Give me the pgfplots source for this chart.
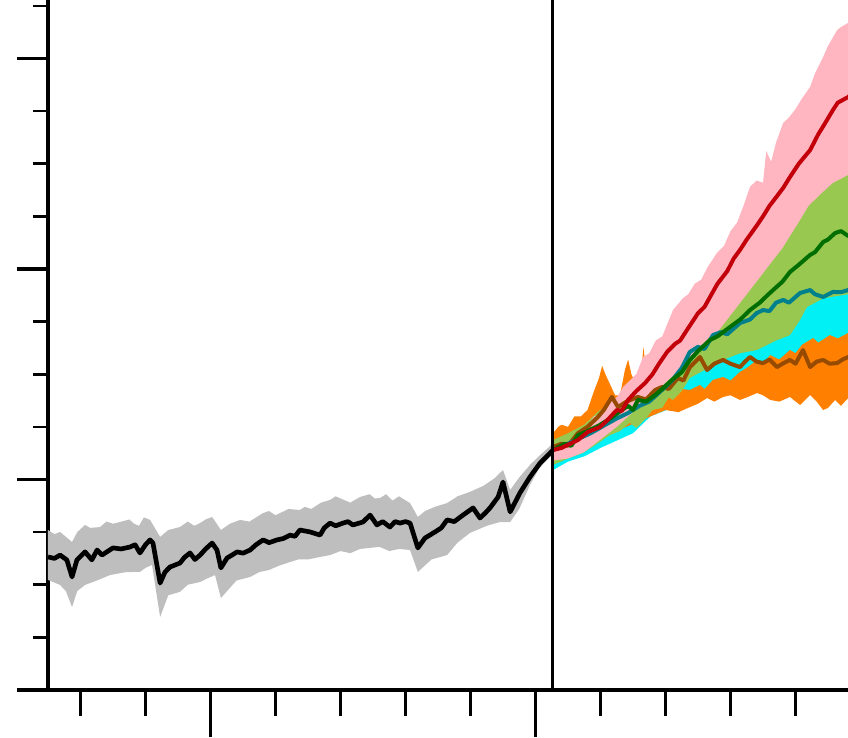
\documentclass[border=0pt]{standalone}
\usepackage{pgfplots}
\pgfplotsset{compat=1.18}
\definecolor{bandgrey}{RGB}{190,190,190}
\definecolor{bandpink}{RGB}{255,182,193}
\definecolor{linered}{RGB}{195,0,10}
\definecolor{bandgreen}{RGB}{152,200,80}
\definecolor{linegreen}{RGB}{0,110,0}
\definecolor{bandcyan}{RGB}{0,240,245}
\definecolor{lineteal}{RGB}{0,128,140}
\definecolor{bandorange}{RGB}{255,128,0}
\definecolor{linebrown}{RGB}{150,75,0}
\pgfplotsset{
  common/.style={
    at={(0pt,0pt)}, anchor=south west,
    scale only axis, width=249.3pt, height=207pt,
    xmin=-9.538, xmax=246.154, ymin=0, ymax=3.278,
    axis lines=middle,
    axis line style={line width=1.1pt, -},
    tick align=outside,
    xticklabels={}, yticklabels={},
    major tick style={line width=1.1pt, black},
    minor tick style={line width=0.8pt, black},
    x filter/.expression={x-1850},
  }
}
\begin{document}
\begin{tikzpicture}
\useasboundingbox (-5.1pt,-14.4pt) rectangle (249.3pt,207pt);
\begin{axis}[common,
  xtick=\empty,
  ytick={1,2,3},
  minor ytick={0.25,0.5,0.75,1.25,1.5,1.75,2.25,2.5,2.75,3.25},
  major tick length=9.3pt, minor tick length=4.5pt]
% historical band
\addplot[draw=none, fill=bandgrey] coordinates {
(1850,0.760) (1852,0.74) (1853.7,0.751) (1857.4,0.703) (1859,0.75) (1861.4,0.784) (1863,0.77) (1866.0,0.774) (1868,0.80) (1870,0.79)
(1872.2,0.798) (1875,0.81) (1876.5,0.79) (1878,0.78) (1879.5,0.82) (1881.4,0.808) (1884.5,0.727) (1887,0.76) (1890.6,0.774)
(1893,0.80) (1895,0.78) (1896.8,0.793) (1898.5,0.81) (1900.5,0.822) (1903.2,0.760) (1906,0.79) (1909.1,0.808) (1912,0.80) (1916.2,0.841)
(1918,0.85) (1920,0.83) (1924,0.86) (1927.5,0.855) (1929,0.87) (1931,0.86) (1934,0.89) (1936.8,0.903)
(1938.5,0.92) (1940,0.91) (1943,0.89) (1946.0,0.917) (1949,0.93) (1950.5,0.91) (1952.2,0.912) (1954,0.93) (1956,0.90)
(1958,0.92) (1961.4,0.888) (1963.8,0.822) (1966,0.85) (1969,0.87) (1972.8,0.888) (1976,0.92) (1979.8,0.941) (1984,0.97) (1987.5,1.007)
(1990.0,1.045) (1992.2,0.950) (1995,1.01) (1998.3,1.069) (2001,1.11) (2004.5,1.159) (2005.4,1.173)
(2005.4,1.116) (2004.5,1.107) (2001,1.05) (1998.3,0.974) (1995,0.86) (1992.2,0.798) (1989.1,0.798) (1985,0.78) (1979.8,0.746) (1976,0.70)
(1972.8,0.641) (1968,0.62) (1963.8,0.561) (1961.4,0.665) (1958,0.67) (1955,0.66) (1952,0.68) (1949.1,0.675) (1946,0.67) (1943,0.65)
(1940,0.66) (1936.8,0.641) (1933,0.63) (1930,0.62) (1927,0.62) (1924.5,0.608) (1921,0.59) (1918,0.57) (1915,0.56) (1912.2,0.537) (1908,0.52) (1903.2,0.437)
(1901.4,0.546) (1899,0.53) (1896.8,0.513) (1893,0.50) (1890.6,0.466) (1887,0.45) (1884.5,0.347) (1882.0,0.594) (1880,0.58) (1878.3,0.561)
(1874,0.56) (1869.1,0.546) (1865,0.52) (1861.4,0.499) (1859,0.47) (1857.4,0.394) (1855.5,0.47) (1853.7,0.499) (1850,0.523)
};
% historical mean
\addplot[black, line width=1.4pt, line join=round] coordinates {
(1850,0.632) (1852,0.625) (1853.7,0.641) (1855.8,0.618) (1857.4,0.537) (1858.9,0.618) (1861.4,0.656)
(1863.5,0.618) (1865.1,0.665) (1866.6,0.641) (1868.5,0.66) (1870.0,0.675) (1872.5,0.67) (1875.2,0.679) (1876.8,0.69) (1878.3,0.651)
(1880,0.69) (1881.4,0.713) (1882.3,0.698) (1884.5,0.508) (1886,0.56) (1887.5,0.584) (1890.6,0.603) (1892,0.63) (1893.7,0.651)
(1895.2,0.62) (1896.8,0.641) (1898.5,0.67) (1900.5,0.698) (1902.0,0.665) (1903.2,0.580) (1905.1,0.627) (1906.5,0.64) (1908.2,0.656)
(1910,0.65) (1912.2,0.665) (1914,0.69) (1916.2,0.713) (1918,0.70) (1920.5,0.713) (1922.5,0.72) (1924.5,0.736) (1926,0.73) (1927.5,0.760) (1930.6,0.751)
(1933.7,0.736) (1935,0.77) (1936.8,0.793) (1938.5,0.78) (1940.8,0.793) (1942.3,0.80) (1943.8,0.784) (1946.9,0.798) (1949.1,0.831)
(1951.2,0.784) (1953,0.80) (1955.2,0.774) (1956.8,0.80) (1958.3,0.793) (1960,0.80) (1961.4,0.793) (1963.8,0.675) (1966.0,0.722)
(1969.1,0.751) (1971,0.77) (1972.8,0.808) (1975,0.80) (1977.7,0.831) (1980.8,0.865) (1982.9,0.817) (1984.5,0.84) (1986.0,0.865)
(1988.5,0.917) (1990.0,0.988) (1992.2,0.846) (1995.2,0.936) (1998.3,1.012) (2001.4,1.078)
(2004.5,1.126) (2005.4,1.140)
};
% cyan band
\addplot[draw=none, fill=bandcyan] coordinates {
(2005.4,1.164) (2019.8,1.259) (2035.4,1.401) (2050.6,1.568) (2060,1.64) (2066,1.686)
(2072,1.73) (2078.3,1.781) (2083.5,1.829) (2090,1.88) (2096.2,1.90) (2100,1.91)
(2100,1.52) (2081.4,1.520) (2066,1.473) (2050.6,1.38) (2042,1.34) (2035.4,1.30) (2030,1.22)
(2020,1.15) (2015,1.11) (2010,1.085) (2005.4,1.045)
};
% orange band
\addplot[draw=none, fill=bandorange] coordinates {
(2005.4,1.22) (2007,1.25) (2008,1.26) (2010,1.25) (2012,1.30) (2014,1.30) (2016,1.33)
(2018,1.42) (2019.5,1.48) (2020.5,1.54) (2021.5,1.50) (2023,1.45) (2024.5,1.40) (2026,1.40)
(2027.5,1.52) (2028.5,1.57) (2029.5,1.50) (2031,1.45) (2032.5,1.50) (2033.2,1.63) (2034,1.52)
(2036,1.46) (2040,1.44) (2047.5,1.425) (2050.6,1.449) (2052,1.43)
(2054.6,1.473) (2057.7,1.487) (2060,1.47) (2062.9,1.511) (2065,1.53) (2068.2,1.568)
(2070,1.55) (2072.2,1.591) (2075,1.57) (2078.3,1.615) (2080,1.60) (2082,1.64)
(2085.4,1.672) (2087,1.65) (2090.6,1.686) (2093,1.67) (2096.2,1.696) (2100,1.70)
(2100,1.39) (2096.2,1.387) (2094,1.35) (2092.2,1.378) (2090,1.34) (2088.5,1.330)
(2086.5,1.37) (2084.5,1.401) (2082.5,1.37) (2081.4,1.354) (2078.3,1.392) (2075,1.37)
(2072.2,1.378) (2070,1.40) (2068.2,1.411) (2065,1.39) (2062.9,1.378) (2060,1.40)
(2057.7,1.392) (2055,1.37) (2052.8,1.387) (2050,1.36) (2047.5,1.344) (2044,1.32) (2040,1.33) (2035.4,1.30)
(2019.8,1.197) (2005.4,1.116)
};
% green band
\addplot[draw=none, fill=bandgreen] coordinates {
(2005.4,1.188) (2010,1.22) (2015,1.26) (2019.8,1.330) (2025,1.36) (2030,1.42)
(2035.4,1.496) (2040,1.55) (2045,1.62) (2050.6,1.710) (2055,1.75) (2058,1.80)
(2062.9,1.853) (2066,1.981) (2069,2.02) (2071,2.09) (2073.1,2.124) (2075,2.18)
(2077.4,2.280) (2079,2.29) (2081.4,2.328) (2084,2.34) (2086,2.37) (2088.5,2.375)
(2090,2.40) (2092.8,2.423) (2094,2.43) (2096.2,2.461) (2100,2.50)
(2100,1.89) (2096.2,1.88) (2092,1.87) (2088.5,1.86) (2083.5,1.819) (2081.4,1.758)
(2078.3,1.686) (2074,1.66) (2068.2,1.615) (2063,1.60) (2057.7,1.568) (2052,1.52)
(2047.5,1.482) (2045,1.42) (2042.3,1.378) (2041,1.39) (2039,1.34) (2036,1.33)
(2034,1.29) (2031,1.245) (2029,1.27) (2026,1.23) (2022.9,1.211) (2018,1.16)
(2014.6,1.126) (2010,1.10) (2005.4,1.069)
};
% pink band
\addplot[draw=none, fill=bandpink] coordinates {
(2005.4,1.164) (2007,1.17) (2009.7,1.154) (2012,1.20) (2014,1.22) (2015.8,1.249)
(2018,1.30) (2020,1.31) (2022,1.36) (2025.1,1.392) (2027,1.44) (2029,1.47)
(2031,1.50) (2033.1,1.582) (2035,1.60) (2037,1.66) (2039,1.68) (2042.3,1.805)
(2045.4,1.862) (2047,1.88) (2049,1.93) (2051,1.95) (2053,2.01) (2055.8,2.076)
(2058,2.11) (2060,2.18) (2062,2.22) (2064,2.30) (2066,2.39) (2068,2.42)
(2070,2.41) (2071,2.56) (2072.5,2.51) (2074,2.60) (2076.2,2.694) (2078,2.72)
(2080,2.76) (2082,2.81) (2084.5,2.865) (2086,2.93) (2088.5,3.007) (2090,3.06)
(2092.8,3.135) (2094,3.15) (2096.2,3.169) (2100,3.25)
(2100,2.50) (2096.2,2.447) (2091.5,2.409) (2088,2.36) (2084,2.30) (2081.4,2.233)
(2076,2.10) (2072,2.02) (2066,1.900) (2060,1.78) (2055,1.68) (2050,1.60)
(2045,1.53) (2040,1.46) (2035,1.39) (2030,1.32) (2025,1.25) (2020,1.19)
(2015,1.13) (2010,1.10) (2005.4,1.09)
};
% brown line
\addplot[linebrown, line width=1.2pt, line join=round] coordinates {
(2005.4,1.154) (2008,1.17) (2010,1.16) (2013.1,1.221) (2016,1.25) (2019.2,1.297)
(2021,1.33) (2023.5,1.392) (2025.4,1.344) (2028,1.37) (2031.5,1.392) (2034,1.38)
(2036.8,1.425) (2039,1.44) (2041,1.43) (2043.8,1.482) (2045.5,1.47) (2047.5,1.534)
(2050.6,1.582) (2052.8,1.520) (2055,1.55) (2057.7,1.568) (2060,1.55) (2062.9,1.534)
(2064.5,1.56) (2066.0,1.582) (2068,1.56) (2070.0,1.553) (2072,1.57) (2074.3,1.534)
(2076,1.55) (2078.3,1.568) (2080,1.55) (2082.3,1.615) (2084.5,1.534) (2086.5,1.56)
(2088.5,1.568) (2090.5,1.55) (2092.8,1.553) (2094.5,1.57) (2096.2,1.582) (2100,1.57)
};
% teal line
\addplot[lineteal, line width=1.2pt, line join=round] coordinates {
(2005.4,1.140) (2010,1.17) (2013.7,1.197) (2017,1.22) (2021.4,1.259) (2025,1.29)
(2028.5,1.316) (2032,1.35) (2035,1.37) (2038.9,1.425) (2042,1.47) (2045,1.53)
(2047.5,1.606) (2050,1.63) (2052,1.62) (2054.6,1.686) (2057,1.70) (2059,1.69)
(2062.9,1.743) (2066,1.76) (2068,1.79) (2070.0,1.805) (2072,1.80) (2074,1.84)
(2076.2,1.853) (2078,1.84) (2081.4,1.886) (2084.5,1.900) (2086,1.88) (2088.5,1.867)
(2091.5,1.891) (2094,1.89) (2096.2,1.900) (2100,1.91)
};
% dark green line
\addplot[linegreen, line width=1.2pt, line join=round] coordinates {
(2005.4,1.140) (2009,1.17) (2011,1.16) (2013.1,1.211) (2016,1.23) (2019.8,1.259)
(2023,1.29) (2026.6,1.330) (2028.5,1.35) (2030,1.33) (2031.5,1.378) (2034,1.37)
(2036.8,1.401) (2039,1.43) (2042.0,1.473) (2045,1.51) (2047.5,1.568) (2050,1.61)
(2053.7,1.663) (2056,1.68) (2059.8,1.724) (2063,1.76) (2066.0,1.805) (2069,1.84)
(2071,1.87) (2073.1,1.900) (2076,1.94) (2078.3,1.986) (2081,2.02) (2084.5,2.067)
(2086,2.08) (2088.5,2.128) (2090,2.14) (2092.2,2.171) (2094,2.18) (2096.2,2.157) (2100,2.17)
};
% red line
\addplot[linered, line width=1.2pt, line join=round] coordinates {
(2005.4,1.140) (2008,1.150) (2010,1.165) (2013.1,1.188) (2016,1.225) (2019.8,1.249)
(2022,1.28) (2025,1.33) (2026.5,1.325) (2028.5,1.378) (2031,1.42) (2033.7,1.458)
(2036,1.50) (2038,1.55) (2040.5,1.606) (2043,1.645) (2044.5,1.66) (2046.6,1.710)
(2050,1.79) (2052,1.82) (2053.7,1.867) (2056,1.93) (2059,1.99) (2061,2.05)
(2062.9,2.090) (2065,2.14) (2068.2,2.209) (2070,2.25) (2072,2.30) (2074,2.34)
(2076.2,2.385) (2078.3,2.437) (2081,2.50) (2084.5,2.565) (2087,2.64) (2089,2.69)
(2091.5,2.755) (2093,2.79) (2096.2,2.817) (2100,2.88)
};
% 2005 divider
\addplot[black, line width=0.75pt] coordinates {(2005.2,0) (2005.2,3.3)};
\end{axis}
\begin{axis}[common,
  axis y line=none,
  ytick=\empty,
  xtick={50,150},
  minor xtick={10,30,70,90,110,130,170,190,210,230},
  major tick length=14.1pt, minor tick length=7.8pt]
\end{axis}
\end{tikzpicture}
\end{document}
